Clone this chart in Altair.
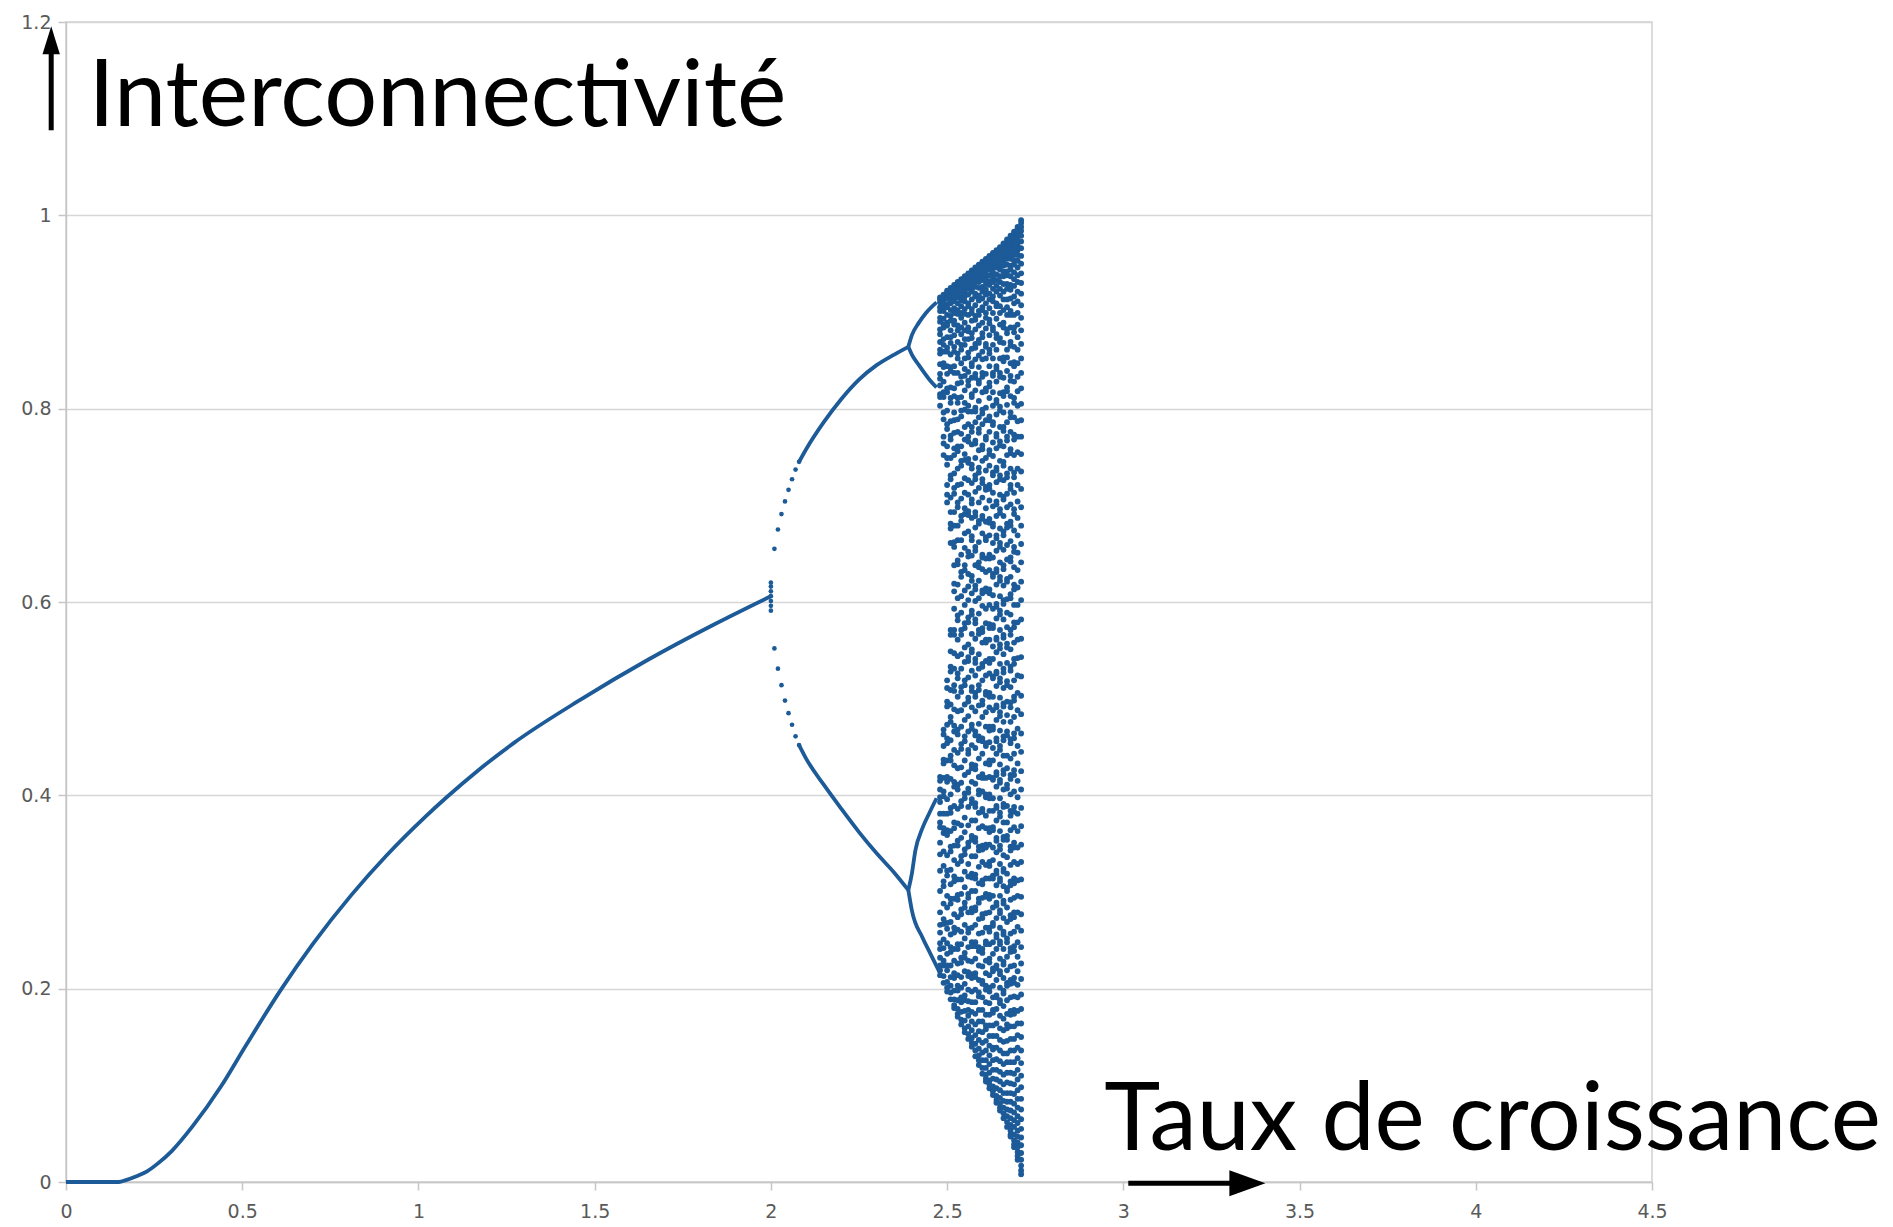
import altair as alt
import pandas as pd

BLUE = "#1c5a98"

# ---------------- data ----------------
# stable branch (single fixed point)
main_x = [0.0, 0.05, 0.10, 0.15, 0.17, 0.20, 0.23, 0.26, 0.30, 0.36, 0.44, 0.51, 0.61, 0.70,
          0.81, 0.91, 1.02, 1.08, 1.17, 1.27, 1.46, 1.65, 1.84, 2.00]
main_y = [0.0, 0.0, 0.0, 0.0, 0.002, 0.006, 0.011, 0.019, 0.032, 0.058, 0.099, 0.141, 0.199, 0.246,
          0.297, 0.338, 0.378, 0.398, 0.426, 0.454, 0.499, 0.540, 0.577, 0.606]

# transient points stacked at x = 2
x2_cluster = [0.591, 0.596, 0.601, 0.606, 0.611, 0.616, 0.620]

# period-2: first separated dots then smooth branches
p2_dot_x = [2.01, 2.02, 2.03, 2.04, 2.05, 2.06, 2.07, 2.08]
p2_dot_up = [0.655, 0.675, 0.691, 0.704, 0.716, 0.727, 0.737, 0.745]
p2_dot_lo = [0.552, 0.531, 0.514, 0.498, 0.485, 0.473, 0.461, 0.452]
p2_x = [2.08, 2.10, 2.15, 2.20, 2.25, 2.30, 2.35, 2.39]
p2_up = [0.745, 0.758, 0.786, 0.810, 0.830, 0.845, 0.856, 0.864]
p2_lo = [0.452, 0.438, 0.411, 0.386, 0.362, 0.340, 0.320, 0.302]

# period-4 branches
p4_uu_x = [2.39, 2.40, 2.42, 2.44, 2.47]
p4_uu_y = [0.864, 0.876, 0.889, 0.899, 0.910]
p4_ul_x = [2.39, 2.40, 2.42, 2.45, 2.47]
p4_ul_y = [0.864, 0.856, 0.845, 0.830, 0.822]
p4_lu_x = [2.39, 2.40, 2.41, 2.43, 2.45, 2.47]
p4_lu_y = [0.302, 0.319, 0.343, 0.366, 0.382, 0.397]
p4_ll_x = [2.39, 2.40, 2.43, 2.45, 2.48]
p4_ll_y = [0.302, 0.281, 0.253, 0.238, 0.216]

# chaotic region, one column of values per growth rate
chaos_x = [2.48, 2.49, 2.50, 2.51, 2.52, 2.53, 2.54, 2.55, 2.56, 2.57, 2.58, 2.59,
           2.60, 2.61, 2.62, 2.63, 2.64, 2.65, 2.66, 2.67, 2.68, 2.69, 2.70, 2.71]
chaos_y = [
    [.915, .913, .910, .905, .901, .894, .890, .882, .877, .869, .861, .857, .846, .836, .831, .824, .815,
     .812, .803, .419, .415, .406, .398, .393, .381, .372, .367, .351, .339, .322, .301, .279, .266, .258,
     .247, .241, .232, .224, .219, .214],
    [.918, .916, .913, .909, .904, .901, .893, .887, .884, .872, .866, .859, .847, .843, .828, .817, .812,
     .796, .789, .771, .764, .752, .468, .463, .451, .437, .433, .418, .404, .399, .381, .366, .361, .342,
     .327, .311, .306, .288, .272, .267, .251, .242, .229, .224, .213, .206],
    [.922, .920, .918, .914, .908, .905, .897, .889, .886, .874, .863, .859, .844, .836, .821, .817, .798,
     .784, .779, .761, .749, .742, .721, .711, .703, .519, .511, .497, .492, .473, .459, .454, .436, .419,
     .414, .396, .381, .364, .359, .338, .322, .317, .296, .284, .268, .262, .247, .236, .224, .219, .207,
     .201, .197],
    [.925, .923, .921, .917, .912, .909, .902, .896, .891, .881, .874, .868, .856, .843, .839, .822, .811,
     .806, .787, .772, .768, .749, .731, .727, .708, .693, .681, .676, .661, .571, .566, .549, .533, .528,
     .509, .494, .481, .476, .457, .441, .436, .417, .401, .387, .382, .363, .347, .342, .323, .308, .293,
     .288, .269, .256, .243, .238, .224, .212, .203, .196, .189],
    [.928, .926, .923, .919, .916, .911, .904, .899, .891, .887, .876, .864, .859, .844, .837, .821, .813,
     .796, .788, .775, .759, .752, .733, .718, .712, .693, .679, .662, .657, .638, .619, .611, .593, .571,
     .566, .547, .531, .514, .508, .489, .472, .466, .447, .431, .414, .409, .389, .372, .366, .348, .333,
     .316, .311, .293, .277, .263, .258, .241, .229, .216, .211, .198, .189, .183, .180],
    [.931, .929, .927, .923, .919, .915, .909, .902, .898, .886, .881, .869, .857, .852, .837, .826, .811,
     .806, .789, .776, .761, .756, .738, .721, .703, .698, .679, .664, .643, .639, .618, .604, .586, .581,
     .561, .544, .526, .521, .502, .487, .468, .463, .444, .428, .411, .406, .386, .371, .353, .348, .329,
     .313, .297, .292, .274, .261, .246, .241, .226, .214, .203, .198, .188, .179, .174, .171],
    [.934, .932, .929, .926, .922, .917, .912, .906, .899, .894, .884, .877, .866, .861, .847, .833, .827,
     .812, .798, .792, .774, .761, .746, .741, .722, .707, .689, .684, .664, .649, .631, .626, .606, .589,
     .571, .566, .546, .531, .512, .507, .488, .471, .453, .448, .429, .413, .394, .389, .369, .356, .337,
     .332, .313, .298, .282, .277, .259, .246, .232, .227, .212, .201, .191, .186, .176, .168, .163],
    [.937, .935, .933, .929, .926, .921, .916, .911, .903, .898, .889, .881, .872, .866, .852, .841, .834,
     .819, .806, .799, .781, .768, .753, .747, .728, .713, .697, .691, .671, .656, .638, .633, .612, .597,
     .578, .573, .553, .538, .519, .514, .494, .478, .461, .456, .436, .421, .402, .397, .377, .362, .344,
     .339, .321, .305, .289, .284, .266, .252, .237, .232, .218, .205, .193, .188, .177, .167, .159, .155],
    [.940, .938, .935, .932, .927, .924, .918, .909, .906, .897, .884, .880, .872, .858, .853, .838, .829,
     .824, .803, .797, .784, .771, .766, .748, .744, .726, .711, .694, .690, .673, .652, .647, .629, .616,
     .602, .584, .579, .556, .543, .539, .522, .501, .497, .482, .466, .447, .443, .424, .407, .403, .388,
     .369, .351, .347, .329, .316, .298, .294, .279, .262, .258, .243, .229, .217, .213, .199, .187, .178,
     .172, .161, .153, .148],
    [.943, .941, .939, .936, .933, .928, .923, .921, .913, .903, .899, .891, .878, .873, .862, .847, .844,
     .832, .815, .812, .797, .781, .776, .763, .742, .738, .723, .706, .702, .687, .668, .664, .648, .627,
     .622, .609, .591, .587, .567, .551, .548, .529, .512, .508, .491, .473, .469, .452, .432, .428, .414,
     .396, .392, .374, .358, .354, .337, .319, .315, .301, .283, .279, .263, .248, .244, .228, .215, .211,
     .197, .186, .176, .166, .157, .149, .144, .140],
    [.946, .944, .942, .939, .935, .931, .926, .919, .916, .907, .896, .892, .882, .867, .863, .851, .836,
     .832, .819, .801, .797, .786, .767, .764, .749, .731, .727, .714, .693, .689, .677, .657, .653, .638,
     .617, .613, .601, .582, .578, .562, .541, .537, .524, .506, .502, .487, .466, .462, .449, .431, .427,
     .412, .392, .388, .374, .356, .352, .337, .318, .314, .301, .284, .281, .266, .248, .244, .231, .216,
     .212, .199, .186, .174, .163, .152, .143, .136, .130],
    [.949, .948, .945, .942, .938, .933, .931, .925, .917, .912, .901, .897, .886, .871, .868, .855, .843,
     .829, .826, .808, .791, .779, .775, .757, .739, .734, .718, .703, .684, .681, .662, .641, .636, .622,
     .604, .588, .571, .567, .546, .531, .514, .509, .493, .474, .461, .457, .438, .419, .405, .401, .382,
     .366, .347, .343, .326, .309, .293, .289, .272, .257, .243, .239, .224, .209, .196, .192, .178, .166,
     .156, .147, .138, .131, .126, .121],
    [.952, .950, .947, .945, .941, .936, .933, .926, .921, .914, .905, .902, .889, .878, .874, .859, .851,
     .837, .833, .817, .799, .795, .784, .762, .758, .746, .727, .723, .708, .689, .686, .671, .649, .646,
     .634, .612, .609, .596, .573, .569, .558, .536, .533, .519, .498, .494, .481, .459, .456, .443, .422,
     .418, .404, .386, .383, .368, .348, .344, .331, .312, .308, .294, .277, .273, .258, .241, .237, .223,
     .208, .205, .191, .178, .166, .155, .144, .134, .126, .118, .112],
    [.955, .953, .951, .947, .944, .939, .934, .929, .923, .918, .909, .899, .894, .883, .867, .864, .852,
     .836, .821, .818, .801, .788, .771, .768, .749, .736, .719, .716, .697, .683, .667, .664, .645, .631,
     .614, .611, .593, .578, .561, .558, .539, .524, .507, .504, .486, .471, .454, .451, .433, .418, .401,
     .398, .379, .366, .349, .346, .328, .314, .298, .295, .278, .263, .249, .246, .229, .216, .203, .199,
     .186, .173, .162, .158, .146, .136, .126, .118, .111, .107, .104],
    [.958, .957, .954, .951, .947, .944, .938, .932, .928, .919, .913, .904, .892, .888, .876, .861, .857,
     .844, .827, .823, .811, .792, .788, .776, .757, .753, .741, .721, .717, .705, .686, .682, .669, .649,
     .645, .633, .613, .609, .597, .577, .573, .561, .541, .537, .526, .506, .502, .491, .471, .467, .455,
     .436, .432, .419, .401, .397, .384, .366, .362, .349, .331, .327, .314, .297, .293, .279, .263, .259,
     .246, .231, .227, .214, .201, .197, .185, .173, .162, .151, .141, .131, .122, .113, .105, .101, .097],
    [.961, .959, .956, .953, .951, .946, .941, .936, .931, .924, .916, .911, .899, .884, .881, .866, .852,
     .837, .834, .817, .803, .786, .783, .765, .751, .734, .731, .713, .699, .681, .678, .661, .646, .629,
     .626, .607, .593, .576, .573, .554, .541, .523, .521, .502, .488, .471, .468, .449, .436, .418, .416,
     .397, .384, .367, .364, .346, .333, .317, .314, .296, .284, .268, .265, .248, .236, .221, .218, .203,
     .191, .178, .175, .162, .151, .139, .137, .126, .116, .107, .099, .094, .090],
    [.964, .962, .960, .957, .953, .949, .946, .939, .933, .927, .921, .909, .906, .893, .877, .873, .861,
     .844, .841, .828, .809, .806, .794, .774, .771, .759, .739, .736, .724, .704, .701, .689, .669, .666,
     .653, .634, .631, .618, .598, .595, .583, .563, .561, .548, .528, .526, .513, .493, .491, .478, .459,
     .456, .443, .424, .421, .409, .389, .387, .374, .356, .353, .341, .322, .319, .307, .289, .286, .273,
     .256, .253, .241, .224, .221, .209, .193, .191, .179, .164, .151, .139, .127, .116, .106, .097, .089,
     .085, .082],
    [.967, .966, .963, .961, .957, .953, .948, .944, .937, .931, .924, .917, .906, .899, .887, .873, .869,
     .852, .837, .833, .816, .802, .798, .781, .766, .762, .746, .731, .727, .711, .696, .692, .676, .661,
     .657, .641, .626, .622, .606, .591, .587, .571, .556, .552, .536, .521, .517, .501, .486, .482, .467,
     .451, .447, .432, .416, .413, .397, .382, .378, .363, .348, .344, .329, .314, .311, .296, .281, .278,
     .263, .249, .246, .231, .218, .215, .201, .188, .185, .172, .159, .147, .136, .125, .114, .104, .095,
     .087, .081, .077, .074],
    [.971, .969, .967, .964, .961, .957, .953, .948, .942, .937, .929, .921, .913, .902, .889, .884, .868,
     .853, .849, .832, .817, .813, .796, .781, .777, .761, .745, .741, .726, .709, .706, .689, .673, .669,
     .654, .638, .634, .617, .602, .598, .582, .566, .563, .546, .531, .527, .511, .495, .492, .476, .461,
     .457, .441, .426, .422, .406, .391, .388, .372, .357, .354, .338, .324, .321, .306, .291, .288, .273,
     .259, .256, .241, .228, .225, .211, .198, .195, .182, .169, .157, .145, .133, .122, .111, .101, .092,
     .084, .077, .071, .066],
    [.975, .972, .970, .966, .963, .958, .955, .949, .942, .938, .929, .924, .913, .905, .897, .882, .878,
     .861, .853, .839, .822, .818, .804, .786, .771, .767, .752, .733, .729, .712, .698, .681, .677, .659,
     .644, .624, .621, .603, .589, .574, .557, .553, .537, .518, .514, .497, .483, .466, .462, .441, .428,
     .411, .407, .389, .372, .358, .354, .336, .319, .304, .301, .284, .269, .252, .248, .233, .219, .206,
     .203, .188, .174, .163, .159, .146, .133, .124, .113, .103, .092, .083, .075, .068, .062, .057],
    [.979, .977, .975, .971, .968, .964, .959, .955, .948, .944, .937, .928, .923, .914, .901, .897, .884,
     .869, .865, .847, .834, .829, .813, .796, .791, .776, .758, .754, .738, .721, .717, .701, .683, .679,
     .663, .646, .642, .626, .608, .604, .587, .571, .566, .551, .533, .529, .512, .496, .491, .476, .458,
     .454, .438, .421, .417, .401, .384, .379, .364, .347, .343, .328, .311, .307, .292, .276, .272, .257,
     .242, .238, .223, .209, .205, .191, .177, .173, .161, .148, .136, .124, .113, .102, .092, .083, .074,
     .066, .059, .053, .049, .047],
    [.983, .981, .979, .976, .972, .969, .964, .959, .953, .949, .941, .934, .927, .916, .909, .897, .884,
     .879, .864, .848, .844, .828, .811, .806, .791, .773, .768, .752, .734, .729, .713, .696, .691, .674,
     .657, .652, .636, .618, .613, .597, .579, .574, .558, .541, .536, .519, .502, .498, .481, .464, .459,
     .443, .426, .421, .404, .388, .383, .367, .351, .346, .331, .314, .309, .294, .279, .274, .259, .244,
     .239, .224, .211, .206, .192, .178, .174, .161, .148, .136, .124, .112, .101, .091, .081, .072, .064,
     .057, .049, .043, .039, .036],
    [.988, .986, .984, .981, .978, .974, .969, .964, .959, .953, .946, .938, .931, .921, .911, .899, .887,
     .874, .861, .847, .833, .818, .803, .787, .771, .755, .738, .721, .704, .687, .669, .651, .633, .615,
     .597, .579, .561, .542, .524, .506, .488, .469, .451, .433, .415, .398, .381, .363, .346, .329, .312,
     .296, .279, .264, .248, .233, .218, .204, .191, .177, .164, .152, .139, .128, .116, .106, .095, .086,
     .077, .068, .061, .053, .047, .041, .036, .031, .027, .023],
    [.995, .992, .988, .984, .979, .973, .966, .958, .950, .940, .930, .919, .907, .894, .881, .867, .852,
     .837, .821, .805, .788, .771, .753, .735, .717, .698, .679, .660, .641, .621, .602, .582, .562, .543,
     .523, .503, .484, .464, .445, .425, .406, .387, .368, .349, .331, .313, .295, .277, .260, .243, .226,
     .210, .194, .179, .164, .150, .136, .123, .110, .098, .086, .075, .065, .055, .046, .038, .030, .023,
     .017, .012, .008],
]

# axis ticks
x_ticks = [0, 0.5, 1, 1.5, 2, 2.5, 3, 3.5, 4, 4.5]
y_ticks = [0, 0.2, 0.4, 0.6, 0.8, 1.0, 1.2]

# annotations (text, anchor in data units)
title_y_text = "Interconnectivité"
title_y_pos = (0.064, 1.092)
title_x_text = "Taux de croissance"
title_x_pos = (2.946, 0.033)
# arrows: shaft segments and heads
shaft_x = [-0.042, 3.014]
shaft_x2 = [-0.042, 3.305]
shaft_y = [1.088, -0.0013]
shaft_y2 = [1.168, -0.0013]

# ---------------- build tables ----------------
line_rows = []
for name, xs, ys in [("main", main_x, main_y), ("p2u", p2_x, p2_up), ("p2l", p2_x, p2_lo),
                     ("uu", p4_uu_x, p4_uu_y), ("ul", p4_ul_x, p4_ul_y),
                     ("lu", p4_lu_x, p4_lu_y), ("ll", p4_ll_x, p4_ll_y)]:
    for a, b in zip(xs, ys):
        line_rows.append({"branch": name, "x": a, "y": b})
lines_df = pd.DataFrame(line_rows)

pt_rows = [{"x": 2.0, "y": v} for v in x2_cluster]
for a, u, l in zip(p2_dot_x, p2_dot_up, p2_dot_lo):
    pt_rows.append({"x": a, "y": u})
    pt_rows.append({"x": a, "y": l})
dot_df = pd.DataFrame(pt_rows)

ch_rows = []
for cx, col in zip(chaos_x, chaos_y):
    for v in col:
        ch_rows.append({"x": cx, "y": v})
chaos_df = pd.DataFrame(ch_rows)

t1_df = pd.DataFrame({"x": [title_y_pos[0]], "y": [title_y_pos[1]], "label": [title_y_text]})
t2_df = pd.DataFrame({"x": [title_x_pos[0]], "y": [title_x_pos[1]], "label": [title_x_text]})
shaft_df = pd.DataFrame({"x": shaft_x, "x2": shaft_x2, "y": shaft_y, "y2": shaft_y2})
head_up_df = pd.DataFrame({"x": [-0.042], "y": [1.181]})
head_right_df = pd.DataFrame({"x": [3.352], "y": [-0.0013]})

xscale = alt.Scale(domain=[0, 4.5], nice=False, zero=False)
yscale = alt.Scale(domain=[0, 1.2], nice=False, zero=False)
xaxis = alt.Axis(values=x_ticks, format="~g", title=None, grid=False, labelFlush=False)
yaxis = alt.Axis(values=y_ticks, format="~g", title=None, grid=True)


def X(f="x"):
    return alt.X(f"{f}:Q", scale=xscale, axis=xaxis)


def Y(f="y"):
    return alt.Y(f"{f}:Q", scale=yscale, axis=yaxis)


lines = alt.Chart(lines_df).mark_line(
    color=BLUE, strokeWidth=3.8, interpolate="monotone"
).encode(x=X(), y=Y(), detail="branch:N")

dots = alt.Chart(dot_df).mark_circle(color=BLUE, size=22, opacity=1).encode(x=X(), y=Y())
chaos = alt.Chart(chaos_df).mark_circle(color=BLUE, size=34, opacity=1).encode(x=X(), y=Y())

text1 = alt.Chart(t1_df).mark_text(
    align="left", baseline="alphabetic", font="Lato", fontSize=93.5, color="black"
).encode(x=X(), y=Y(), text="label:N")

text2 = alt.Chart(t2_df).mark_text(
    align="left", baseline="alphabetic", font="Lato", fontSize=95, color="black"
).encode(x=X(), y=Y(), text="label:N")

shafts = alt.Chart(shaft_df).mark_rule(color="black", strokeWidth=5).encode(
    x=X(), x2="x2:Q", y=Y(), y2="y2:Q")

head_up = alt.Chart(head_up_df).mark_point(
    shape="M0,-1L-0.62,1L0.62,1Z", filled=True, color="black", opacity=1, size=784, strokeWidth=0
).encode(x=X(), y=Y())

head_right = alt.Chart(head_right_df).mark_point(
    shape="M1,0L-1,-0.72L-1,0.72Z", filled=True, color="black", opacity=1, size=1300, strokeWidth=0
).encode(x=X(), y=Y())

chart = alt.layer(lines, dots, chaos, shafts, head_up, head_right, text1, text2).properties(
    width=1586, height=1160,
    padding={"left": 58, "top": 14, "right": 232, "bottom": 42},
    autosize=alt.AutoSizeParams(type="none"),
).configure_axis(
    domainColor="#c6c6c6", domainWidth=1.5, tickColor="#c6c6c6", tickWidth=1.5, tickSize=8,
    labelFont="DejaVu Sans", labelFontSize=19, labelColor="#5a5a5a",
    gridColor="#d6d6d6", gridWidth=1.5,
).configure_axisX(labelPadding=12).configure_axisY(labelPadding=7).configure_view(
    stroke="#d0d0d0", strokeWidth=1.5
)

chart.save("out.html", embed_options={"renderer": "svg", "actions": False})
